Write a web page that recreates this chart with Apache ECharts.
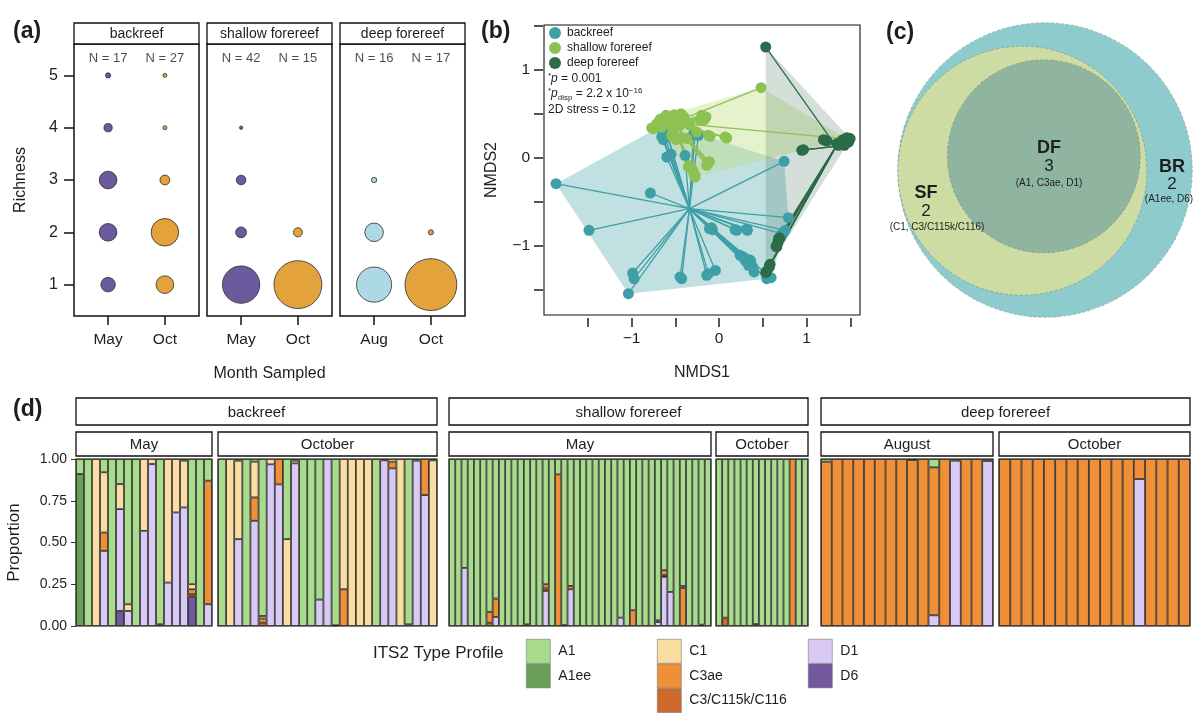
<!DOCTYPE html>
<html><head><meta charset="utf-8">
<script src="https://cdn.jsdelivr.net/npm/echarts@6/dist/echarts.min.js"></script>
<style>html,body{margin:0;padding:0;background:#fff}#c{width:1200px;height:718px}</style>
</head><body><div id="c"></div>
<script>
// ================= DATA =================
// ---- panel (a): richness bubbles ----
const sitesA = ['backreef', 'shallow forereef', 'deep forereef'];
const monthsA = [['May', 'Oct'], ['May', 'Oct'], ['Aug', 'Oct']];
const sampleN = [[17, 27], [42, 15], [16, 17]];
const richness = [1, 2, 3, 4, 5];
const richBrMay = [4, 5, 5, 2, 1];
const richBrOct = [8, 13, 4, 1, 1];
const richSfMay = [28, 7, 6, 1, 0];
const richSfOct = [13, 2, 0, 0, 0];
const richDfAug = [10, 5, 1, 0, 0];
const richDfOct = [16, 1, 0, 0, 0];

// ---- panel (b): NMDS ordination ----
const nmdsBR = [[-1.863,-0.292],[-1.486,-0.822],[-0.785,-0.398],[-1.036,-1.542],[-0.987,-1.307],[-0.971,-1.371],
  [-0.427,-1.371],[-0.141,-1.333],[-0.042,-1.277],[-0.110,-0.803],[-0.076,-0.814],[0.183,-0.814],[0.316,-0.807],
  [0.297,-1.163],[0.362,-1.170],[0.335,-1.220],[0.400,-1.295],[0.545,-1.371],[0.792,-0.678],[0.754,-0.822],
  [0.743,-0.038],[-0.655,0.239],[-0.663,0.352],[-0.625,0.383],[-0.549,0.042],[-0.389,0.030],[-0.293,0.269],
  [-0.236,0.258],[0.278,-1.125],[0.347,-1.155],[0.385,-1.239],[0.240,-1.106],[-0.644,0.307],[-0.598,0.277],
  [-0.274,0.284],[-0.088,-0.792],[0.716,-0.860],[0.594,-1.360],[-0.636,0.208],[0.202,-0.822],[-0.446,-1.352],
  [-0.122,-1.314],[-0.598,0.011],[0.324,-0.822]];
const nmdsSF = [[0.480,0.799],[-0.770,0.341],[-0.674,0.439],[-0.598,0.473],[-0.514,0.492],[-0.438,0.458],
  [-0.579,0.409],[-0.484,0.428],[-0.187,0.458],[-0.168,0.436],[-0.122,0.258],[0.088,0.227],[-0.522,0.239],
  [-0.476,0.231],[-0.339,-0.091],[-0.293,-0.159],[-0.274,-0.216],[-0.130,-0.064],[-0.110,-0.042],[1.459,0.216],
  [-0.644,0.447],[-0.541,0.466],[-0.465,0.485],[-0.400,0.398],[-0.655,0.352],[-0.560,0.383],[-0.503,0.352],
  [-0.446,0.371],[-0.606,0.485],[-0.427,0.428],[-0.331,0.371],[-0.255,0.295],[-0.217,0.428],[-0.312,-0.121],
  [-0.286,-0.186],[-0.141,-0.083],[-0.541,0.258],[-0.491,0.208],[-0.370,0.220],[-0.712,0.390],[-0.629,0.398],
  [-0.400,0.466],[-0.198,0.485],[-0.149,0.466],[-0.103,0.246],[0.069,0.239],[-0.495,0.473],[-0.457,0.409],
  [-0.568,0.447],[-0.663,0.420],[-0.750,0.333],[-0.530,0.295],[-0.350,-0.102],[-0.274,-0.197],[-0.130,-0.053],
  [-0.434,0.504],[-0.620,0.430]];
const nmdsDF = [[0.533,1.261],[1.486,0.208],[1.383,0.155],[1.211,0.201],[0.945,0.087],[0.651,-1.004],[0.678,-0.917],
  [0.575,-1.227],[0.533,-1.303],[1.459,0.231],[1.402,0.170],[1.440,0.200],[1.480,0.180],[1.364,0.144],[1.230,0.193],
  [0.964,0.095],[0.667,-0.973],[0.583,-1.208],[0.545,-1.284],[1.421,0.155],[1.467,0.201],[1.394,0.182],[1.497,0.220],
  [1.345,0.163],[1.448,0.170],[1.192,0.208],[1.413,0.208],[0.659,-1.011],[0.690,-0.905],[0.575,-1.239],[1.375,0.170],
  [1.482,0.223],[1.432,0.144]];
const centBR = [-0.339, -0.576];
const centSF = [-0.525, 0.400];
const centDF = [1.337, 0.133];

// ---- panel (c): Venn of ITS2 profiles ----
const vennSets = ['BR', 'SF', 'DF'];
const vennUnique = [2, 2, 3];            // profiles found only at this level of nesting
const vennProfiles = ['(A1ee, D6)', '(C1, C3/C115k/C116)', '(A1, C3ae, D1)'];

// ---- panel (d): ITS2 type profile proportions ----
// columns: A1, A1ee, C1, C3ae, C3/C115k/C116, D1, D6
const profiles = ['A1', 'A1ee', 'C1', 'C3ae', 'C3/C115k/C116', 'D1', 'D6'];
const brMay = [
  [0.09,0.91,0,0,0,0,0],[1,0,0,0,0,0,0],[0,0,1,0,0,0,0],[0.08,0,0.36,0.11,0,0.45,0],[1,0,0,0,0,0,0],
  [0.15,0,0.15,0,0,0.61,0.09],[0.87,0,0.04,0,0,0.09,0],[1,0,0,0,0,0,0],[0,0,0.43,0,0,0.57,0],
  [0,0,0.03,0,0,0.97,0],[0.99,0.01,0,0,0,0,0],[0,0,0.74,0,0,0.26,0],[0,0,0.32,0,0,0.68,0],
  [0.01,0,0.28,0,0,0.71,0],[0.75,0,0.03,0.03,0.015,0,0.175],[1,0,0,0,0,0,0],[0.13,0,0,0.74,0,0.13,0]];
const brOct = [
  [1,0,0,0,0,0,0],[0,0,1,0,0,0,0],[0.01,0,0.47,0,0,0.52,0],[1,0,0,0,0,0,0],[0.016,0,0.214,0.14,0,0.63,0],
  [0.94,0,0.015,0.025,0.02,0,0],[0,0,0.032,0,0,0.968,0],[0,0,0,0.152,0,0.848,0],[0.48,0,0.52,0,0,0,0],
  [0.01,0,0.016,0,0,0.974,0],[1,0,0,0,0,0,0],[1,0,0,0,0,0,0],[0.842,0,0,0,0,0.158,0],[0,0,0,0,0,1,0],
  [0.996,0.004,0,0,0,0,0],[0,0,0.78,0.22,0,0,0],[0,0,1,0,0,0,0],[0,0,1,0,0,0,0],[0,0,1,0,0,0,0],
  [1,0,0,0,0,0,0],[0,0,0.008,0,0,0.992,0],[0,0,0.016,0.04,0,0.944,0],[0,0,1,0,0,0,0],[0.99,0,0.01,0,0,0,0],
  [0,0,0.01,0,0,0.99,0],[0,0,0,0.216,0,0.784,0],[0.008,0,0.992,0,0,0,0]];
const sfMay = [
  [1,0,0,0,0,0,0],[1,0,0,0,0,0,0],[0.652,0,0,0,0,0.348,0],[1,0,0,0,0,0,0],[1,0,0,0,0,0,0],[1,0,0,0,0,0,0],
  [0.915,0,0,0.065,0.02,0,0],[0.836,0,0,0.11,0,0.054,0],[1,0,0,0,0,0,0],[1,0,0,0,0,0,0],[1,0,0,0,0,0,0],
  [1,0,0,0,0,0,0],[0.99,0,0,0,0.01,0,0],[1,0,0,0,0,0,0],[1,0,0,0,0,0,0],[0.75,0,0,0.025,0.015,0.21,0],
  [1,0,0,0,0,0,0],[0.092,0,0,0.908,0,0,0],[0.995,0,0,0,0.005,0,0],[0.76,0,0,0.02,0,0.22,0],[1,0,0,0,0,0,0],
  [1,0,0,0,0,0,0],[1,0,0,0,0,0,0],[1,0,0,0,0,0,0],[1,0,0,0,0,0,0],[1,0,0,0,0,0,0],[1,0,0,0,0,0,0],
  [0.95,0,0,0,0,0.05,0],[1,0,0,0,0,0,0],[0.906,0,0,0.094,0,0,0],[1,0,0,0,0,0,0],[1,0,0,0,0,0,0],
  [1,0,0,0,0,0,0],[0.966,0,0.01,0,0,0.024,0],[0.666,0,0,0.03,0.01,0.294,0],[0.796,0,0,0,0,0.204,0],
  [1,0,0,0,0,0,0],[0.76,0,0.012,0.228,0,0,0],[1,0,0,0,0,0,0],[1,0,0,0,0,0,0],[0.992,0,0,0,0.008,0,0],
  [1,0,0,0,0,0,0]];
const sfOct = [
  [1,0,0,0,0,0,0],[0.95,0,0,0,0.05,0,0],[1,0,0,0,0,0,0],[1,0,0,0,0,0,0],[1,0,0,0,0,0,0],[1,0,0,0,0,0,0],
  [0.988,0,0,0,0.012,0,0],[1,0,0,0,0,0,0],[1,0,0,0,0,0,0],[1,0,0,0,0,0,0],[1,0,0,0,0,0,0],[1,0,0,0,0,0,0],
  [0,0,0,1,0,0,0],[1,0,0,0,0,0,0],[1,0,0,0,0,0,0]];
const dfAug = [
  [0.016,0,0,0.984,0,0,0],[0,0,0,1,0,0,0],[0,0,0,1,0,0,0],[0,0,0,1,0,0,0],[0,0,0,1,0,0,0],[0,0,0,1,0,0,0],
  [0,0,0,1,0,0,0],[0,0,0,1,0,0,0],[0.006,0,0,0.994,0,0,0],[0,0,0,1,0,0,0],[0.05,0,0,0.886,0,0.064,0],
  [0,0,0,1,0,0,0],[0,0,0,0.01,0,0.99,0],[0,0,0,1,0,0,0],[0,0,0,1,0,0,0],[0,0,0,0.012,0,0.988,0]];
const dfOct = [
  [0,0,0,1,0,0,0],[0,0,0,1,0,0,0],[0,0,0,1,0,0,0],[0,0,0,1,0,0,0],[0,0,0,1,0,0,0],[0,0,0,1,0,0,0],
  [0,0,0,1,0,0,0],[0,0,0,1,0,0,0],[0,0,0,1,0,0,0],[0,0,0,1,0,0,0],[0,0,0,1,0,0,0],[0,0,0,1,0,0,0],
  [0,0,0,0.12,0,0.88,0],[0,0,0,1,0,0,0],[0,0,0,1,0,0,0],[0,0,0,1,0,0,0],[0,0,0,1,0,0,0]];
const sitesD = ['backreef', 'shallow forereef', 'deep forereef'];
const monthsD = ['May', 'October', 'May', 'October', 'August', 'October'];

// ================= STYLE / LAYOUT =================
const FONT = "'Liberation Sans', Arial, Helvetica, sans-serif";
const INK = '#1e1e1e';
const monthColors = [['#6B5A9E', '#E3A23B'], ['#6B5A9E', '#E3A23B'], ['#ADD8E6', '#E3A23B']];
const profColors = ['#A8DB8C', '#6A9F58', '#FADDA0', '#EF8F37', '#CF692B', '#D8CAF5', '#72589E'];
const richCounts = [[richBrMay, richBrOct], [richSfMay, richSfOct], [richDfAug, richDfOct]];
const barGroups = [brMay, brOct, sfMay, sfOct, dfAug, dfOct];

const grids = [
  {left: 74, top: 44, width: 125, height: 272},
  {left: 207, top: 44, width: 125, height: 272},
  {left: 340, top: 44, width: 125, height: 272},
  {left: 544, top: 25, width: 316, height: 290},
  {left: 880, top: 5, width: 330, height: 330},
  {left: 76, top: 459, width: 136, height: 167},
  {left: 218, top: 459, width: 219, height: 167},
  {left: 449, top: 459, width: 262, height: 167},
  {left: 716, top: 459, width: 92, height: 167},
  {left: 821, top: 459, width: 172, height: 167},
  {left: 999, top: 459, width: 191, height: 167}
];
grids.forEach((g, i) => {
  g.outerBoundsMode = 'none';
  g.containLabel = false;
  g.show = i !== 4;
  g.borderColor = '#111';
  g.borderWidth = i < 3 ? 1.5 : (i === 3 ? 1.1 : 1.2);
  g.backgroundColor = 'transparent';
});

const xAxes = [], yAxes = [];
// panel a axes
for (let i = 0; i < 3; i++) {
  xAxes.push({gridIndex: i, type: 'value', min: 0.4, max: 2.6,
    axisLine: {show: false, onZero: false}, splitLine: {show: false},
    axisTick: {show: true, customValues: [1, 2], length: 9, lineStyle: {color: INK, width: 1.6}},
    axisLabel: {customValues: [1, 2], formatter: v => monthsA[i][Math.round(v) - 1], fontSize: 15.5, color: INK, margin: 16, fontFamily: FONT},
    name: i === 1 ? 'Month Sampled' : '', nameLocation: 'middle', nameGap: 50,
    nameTextStyle: {fontSize: 16, color: INK, fontFamily: FONT}});
  yAxes.push({gridIndex: i, type: 'value', min: 0.4, max: 5.6, show: i === 0,
    axisLine: {show: false, onZero: false}, splitLine: {show: false},
    axisTick: {show: true, customValues: richness, length: 10, lineStyle: {color: INK, width: 1.6}},
    axisLabel: {customValues: richness, fontSize: 16, color: INK, margin: 16, fontFamily: FONT},
    name: 'Richness', nameLocation: 'middle', nameGap: 45,
    nameTextStyle: {fontSize: 16, color: INK, fontFamily: FONT}});
}
// panel b axes
const minus = v => (v < 0 ? '\u2212' + Math.abs(v) : String(v));
xAxes.push({gridIndex: 3, type: 'value', min: -2.0, max: 1.61, offset: 3, position: 'bottom',
  axisLine: {show: false, onZero: false}, splitLine: {show: false},
  axisTick: {show: true, customValues: [-1.5, -1, -0.5, 0, 0.5, 1, 1.5], length: 9, lineStyle: {color: INK, width: 1.5}},
  axisLabel: {customValues: [-1, 0, 1], formatter: minus, fontSize: 15.5, color: INK, margin: 13, fontFamily: FONT},
  name: 'NMDS1', nameLocation: 'middle', nameGap: 47, nameTextStyle: {fontSize: 16, color: INK, fontFamily: FONT}});
yAxes.push({gridIndex: 3, type: 'value', min: -1.784, max: 1.511, offset: 1, position: 'left',
  axisLine: {show: false, onZero: false}, splitLine: {show: false},
  axisTick: {show: true, customValues: [-1.5, -1, -0.5, 0, 0.5, 1, 1.5], length: 9, lineStyle: {color: INK, width: 1.5}},
  axisLabel: {customValues: [-1, 0, 1], formatter: minus, fontSize: 15.5, color: INK, margin: 13, fontFamily: FONT},
  name: 'NMDS2', nameLocation: 'middle', nameGap: 43, nameTextStyle: {fontSize: 16, color: INK, fontFamily: FONT}});
// panel c axes (hidden, equal aspect)
xAxes.push({gridIndex: 4, type: 'value', min: -1.12, max: 1.12, show: false, splitLine: {show: false}});
yAxes.push({gridIndex: 4, type: 'value', min: -1.12, max: 1.12, show: false, splitLine: {show: false}});
// panel d axes
barGroups.forEach((rows, gi) => {
  xAxes.push({gridIndex: 5 + gi, type: 'category', data: rows.map((r, k) => 'S' + (k + 1)), show: false});
  yAxes.push({gridIndex: 5 + gi, type: 'value', min: 0, max: 1, interval: 0.25, show: gi === 0,
    axisLine: {show: false, onZero: false}, splitLine: {show: false},
    axisTick: {show: true, length: 5, lineStyle: {color: '#333', width: 1}},
    axisLabel: {formatter: v => v.toFixed(2), fontSize: 14, color: INK, margin: 9, fontFamily: FONT},
    name: 'Proportion', nameLocation: 'middle', nameGap: 53,
    nameTextStyle: {fontSize: 17, color: INK, fontFamily: FONT}});
});

// ================= SERIES =================
const series = [];
// panel a bubbles
sitesA.forEach((site, fi) => {
  for (let mi = 0; mi < 2; mi++) {
    const counts = richCounts[fi][mi], N = sampleN[fi][mi];
    series.push({type: 'scatter', name: 'rich-' + fi + '-' + mi, xAxisIndex: fi, yAxisIndex: fi, z: 3,
      data: richness.map((r, k) => [mi + 1, r, counts[k]]).filter(d => d[2] > 0),
      symbolSize: d => 2 + 53 * d[2] / N,
      itemStyle: {color: monthColors[fi][mi], borderColor: '#2b2b2b', borderWidth: 0.8, opacity: 1}});
  }
  series.push({type: 'scatter', name: 'N-' + fi, xAxisIndex: fi, yAxisIndex: fi, silent: true,
    data: [[1, 5.32], [2, 5.32]], symbolSize: 0.1, itemStyle: {color: 'rgba(0,0,0,0)'},
    label: {show: true, position: 'inside', formatter: p => 'N = ' + sampleN[fi][p.dataIndex],
      fontSize: 13, color: INK, fontFamily: FONT}});
});

// panel b
function convexHull(pts) {
  const p = pts.slice().sort((a, b) => a[0] - b[0] || a[1] - b[1]);
  const cross = (o, a, b) => (a[0] - o[0]) * (b[1] - o[1]) - (a[1] - o[1]) * (b[0] - o[0]);
  const lo = [], up = [];
  for (const q of p) { while (lo.length >= 2 && cross(lo[lo.length - 2], lo[lo.length - 1], q) <= 0) lo.pop(); lo.push(q); }
  for (let i = p.length - 1; i >= 0; i--) { const q = p[i]; while (up.length >= 2 && cross(up[up.length - 2], up[up.length - 1], q) <= 0) up.pop(); up.push(q); }
  lo.pop(); up.pop();
  return lo.concat(up);
}
const groupsB = [
  {name: 'backreef', pts: nmdsBR, cen: centBR, color: '#3E9FA6', hull: 'rgba(62,159,166,0.32)'},
  {name: 'shallow forereef', pts: nmdsSF, cen: centSF, color: '#8DC153', hull: 'rgba(190,222,120,0.38)'},
  {name: 'deep forereef', pts: nmdsDF, cen: centDF, color: '#2C6B48', hull: 'rgba(60,110,80,0.22)'}
];
groupsB.forEach(g => {
  const hp = convexHull(g.pts);
  series.push({type: 'custom', name: 'hull-' + g.name, xAxisIndex: 3, yAxisIndex: 3, silent: true, z: 1,
    data: [[0, 0]],
    renderItem: (params, api) => ({type: 'polygon', shape: {points: hp.map(q => api.coord(q))},
      style: {fill: g.hull, stroke: 'none'}})});
});
groupsB.forEach(g => {
  series.push({type: 'custom', name: 'spider-' + g.name, xAxisIndex: 3, yAxisIndex: 3, silent: true, z: 2,
    data: g.pts,
    renderItem: (params, api) => {
      const a = api.coord(g.cen), b = api.coord([api.value(0), api.value(1)]);
      return {type: 'line', shape: {x1: a[0], y1: a[1], x2: b[0], y2: b[1]}, style: {stroke: g.color, lineWidth: 1.3}};
    }});
});
groupsB.forEach(g => {
  series.push({type: 'scatter', name: g.name, xAxisIndex: 3, yAxisIndex: 3, z: 3, data: g.pts,
    symbolSize: 11, itemStyle: {color: g.color, opacity: 1}});
});

// panel c Venn (nested circles, area ~ number of profiles)
const vennTotals = vennUnique.map((u, i) => vennUnique.slice(i).reduce((a, b) => a + b, 0)); // BR ⊃ SF ⊃ DF
const vennR = vennTotals.map(n => Math.sqrt(n / vennTotals[0]));
const cBR = [0, 0];
const cSF = [cBR[0] - (vennR[0] - vennR[1]) * 0.99, cBR[1] - 0.005];
const ang = 34 * Math.PI / 180, dd = (vennR[1] - vennR[2]) * 0.92;
const cDF = [cSF[0] + dd * Math.cos(ang), cSF[1] + dd * Math.sin(ang)];
const vennCircles = [[cBR[0], cBR[1], vennR[0]], [cSF[0], cSF[1], vennR[1]], [cDF[0], cDF[1], vennR[2]]];
const vennColors = ['#8ECBCC', '#CCDCA2', '#8FB4A0'];
series.push({type: 'custom', name: 'venn', xAxisIndex: 4, yAxisIndex: 4, silent: true, clip: false,
  data: vennCircles,
  renderItem: (params, api) => {
    const c = api.coord([api.value(0), api.value(1)]);
    const r = api.size([api.value(2), 0])[0];
    return {type: 'circle', shape: {cx: c[0], cy: c[1], r: r},
      style: {fill: vennColors[params.dataIndex], stroke: 'rgba(90,100,95,0.45)', lineWidth: 0.8, lineDash: [3, 2]}};
  }});

// panel d stacked bars (bottom -> top: D6, D1, C3/C115k/C116, C3ae, C1, A1ee, A1)
const stackOrder = [6, 5, 4, 3, 2, 1, 0];
barGroups.forEach((rows, gi) => {
  const norm = rows.map(r => { const s = r.reduce((a, b) => a + b, 0); return r.map(v => v / s); });
  stackOrder.forEach(pi => {
    series.push({type: 'bar', name: profiles[pi], xAxisIndex: 5 + gi, yAxisIndex: 5 + gi, stack: 'g' + gi,
      barCategoryGap: '0%', barGap: '0%',
      data: norm.map(r => (r[pi] > 0 ? r[pi] : '-')),
      itemStyle: {color: profColors[pi], borderColor: '#1a1a1a', borderWidth: 0.8}});
  });
});

// ================= GRAPHIC (strips, panel tags, annotations) =================
const graphic = [];
function strip(x, y, w, h, text, fs) {
  graphic.push({type: 'rect', shape: {x: x, y: y, width: w, height: h}, style: {fill: '#fff', stroke: '#111', lineWidth: 1.3}, silent: true});
  graphic.push({type: 'text', x: x + w / 2, y: y + h / 2 + 1, silent: true,
    style: {text: text, fill: INK, fontSize: fs, fontFamily: FONT, align: 'center', verticalAlign: 'middle'}});
}
function txt(x, y, text, opt) {
  graphic.push({type: 'text', x: x, y: y, silent: true, z: 100,
    style: Object.assign({text: text, fill: INK, fontSize: 14, fontFamily: FONT, align: 'left', verticalAlign: 'middle'}, opt || {})});
}
// panel a strips
for (let i = 0; i < 3; i++) strip(grids[i].left, 23, grids[i].width, 21, sitesA[i], 14);
// panel d strips
const gd = grids.slice(5);
for (let s = 0; s < 3; s++) {
  const a = gd[2 * s], b = gd[2 * s + 1];
  strip(a.left, 398, b.left + b.width - a.left, 27, sitesD[s], 15);
}
gd.forEach((g, k) => strip(g.left, 432, g.width, 24, monthsD[k], 15));

// panel tags
txt(13, 32, '(a)', {fontSize: 23, fontWeight: 'bold'});
txt(481, 32, '(b)', {fontSize: 23, fontWeight: 'bold'});
txt(886, 33, '(c)', {fontSize: 23, fontWeight: 'bold'});
txt(13, 410, '(d)', {fontSize: 23, fontWeight: 'bold'});

// panel b statistics
const rich = {s: {fontSize: 8, lineHeight: 8, verticalAlign: 'top'}, b: {fontSize: 8, lineHeight: 8, verticalAlign: 'bottom'},
  i: {fontStyle: 'italic', fontSize: 12, lineHeight: 15}, n: {fontSize: 12, lineHeight: 15}};
txt(548, 79, '{s|*}{i|p}{n| = 0.001}', {fontSize: 12, rich: rich});
txt(548, 94, '{s|*}{i|p}{b|disp}{n| = 2.2 x 10}{s|\u221216}', {fontSize: 12, rich: rich});
txt(548, 110, '2D stress = 0.12', {fontSize: 12});

// panel c labels
const vc = {align: 'center'};
txt(1049, 148, 'DF', Object.assign({fontSize: 18, fontWeight: 'bold'}, vc));
txt(1049, 166, String(vennUnique[2]), Object.assign({fontSize: 17}, vc));
txt(1049, 183, vennProfiles[2], Object.assign({fontSize: 10}, vc));
txt(1172, 167, 'BR', Object.assign({fontSize: 18, fontWeight: 'bold'}, vc));
txt(1172, 184, String(vennUnique[0]), Object.assign({fontSize: 17}, vc));
txt(1169, 199, vennProfiles[0], Object.assign({fontSize: 10}, vc));
txt(926, 193, 'SF', Object.assign({fontSize: 18, fontWeight: 'bold'}, vc));
txt(926, 211, String(vennUnique[1]), Object.assign({fontSize: 17}, vc));
txt(937, 227, vennProfiles[1], Object.assign({fontSize: 10}, vc));

// panel d legend title
txt(373, 653, 'ITS2 Type Profile', {fontSize: 17});

// ================= LEGENDS =================
const legD = (left, names) => ({show: true, orient: 'vertical', left: left, top: 639, padding: 0,
  itemWidth: 24, itemHeight: 24, itemGap: 0, icon: 'rect', selectedMode: false, data: names,
  textStyle: {fontSize: 14, color: INK, fontFamily: FONT, padding: [0, 0, 0, 3]},
  itemStyle: {borderColor: '#777', borderWidth: 0.6}});

const option = {
  animation: false,
  backgroundColor: '#fff',
  textStyle: {fontFamily: FONT},
  grid: grids,
  xAxis: xAxes,
  yAxis: yAxes,
  legend: [
    {show: true, orient: 'vertical', left: 549, top: 27, padding: 0, itemWidth: 12, itemHeight: 12, itemGap: 3,
      icon: 'circle', selectedMode: false, data: groupsB.map(g => g.name),
      textStyle: {fontSize: 12, color: INK, fontFamily: FONT, padding: [0, 0, 0, 1]}},
    legD(526, ['A1', 'A1ee']),
    legD(657, ['C1', 'C3ae', 'C3/C115k/C116']),
    legD(808, ['D1', 'D6'])
  ],
  series: series,
  graphic: graphic
};
const chart = echarts.init(document.getElementById('c'), null, {renderer: 'canvas', width: 1200, height: 718});
chart.setOption(option);
</script>
</body></html>
